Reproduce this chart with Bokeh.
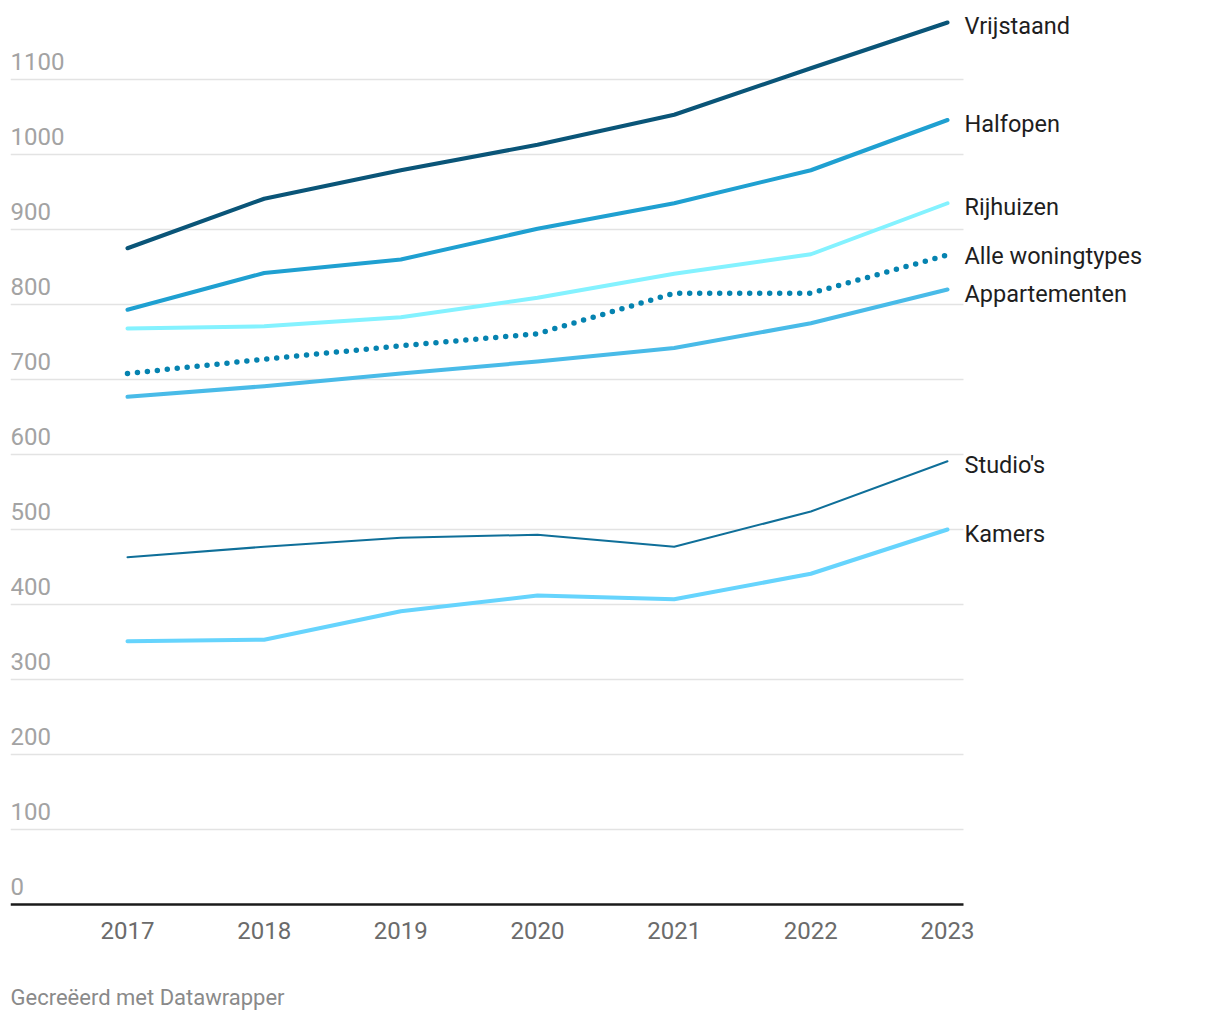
from bokeh.plotting import figure
from bokeh.models import Range1d, ColumnDataSource
from bokeh.core.properties import value
from bokeh.embed import file_html
from bokeh.resources import INLINE

years = [2017, 2018, 2019, 2020, 2021, 2022, 2023]
vrijstaand = [875, 941, 979, 1013, 1053, 1115, 1176]
halfopen = [793, 842, 860, 901, 935, 979, 1046]
rijhuizen = [768, 771, 783, 809, 841, 867, 935]
alle = [708, 727, 745, 761, 815, 815, 866]
appartementen = [677, 691, 708, 724, 742, 775, 820]
studios = [463, 477, 489, 493, 477, 524, 591]
kamers = [351, 353, 391, 412, 407, 441, 500]

y_ticks = [0, 100, 200, 300, 400, 500, 600, 700, 800, 900, 1000, 1100]
x_tick_labels = ["2017", "2018", "2019", "2020", "2021", "2022", "2023"]
credit = "Gecreëerd met Datawrapper"

# name, values, colour, width, dash, label y-offset (px)
series = [
    ("Vrijstaand", vrijstaand, "#0a5578", 4, None, 3),
    ("Halfopen", halfopen, "#1fa0d1", 4, None, 3.5),
    ("Rijhuizen", rijhuizen, "#84f2ff", 4, None, 4),
    ("Appartementen", appartementen, "#49bbe8", 4, None, 4),
    ("Studio's", studios, "#0f6f99", 2, None, 4),
    ("Kamers", kamers, "#66d4fd", 4, None, 4),
    ("Alle woningtypes", alle, "#0583b0", 5.5, "0 10", 0.5),
]

FONT = "Roboto"

# layout constants (pixels)
W, H = 1215, 1015
LEFT, TOP = 10, 10
PX_PER_YEAR = 136.67
PX_PER_UNIT = 0.75
X0 = 2016.144            # value at frame left edge
X_GRID_END = 2023.117    # where gridlines stop
Y_TOP = 1192

frame_w = W - LEFT
frame_h = H - TOP
x_end = X0 + frame_w / PX_PER_YEAR
y_bot = Y_TOP - frame_h / PX_PER_UNIT

p = figure(width=W, height=H, output_backend="svg", toolbar_location=None,
           x_range=Range1d(X0, x_end), y_range=Range1d(y_bot, Y_TOP))
p.min_border_left = LEFT
p.min_border_top = TOP
p.min_border_right = 0
p.min_border_bottom = 0
p.outline_line_color = None
p.background_fill_color = "white"
p.border_fill_color = "white"
p.xaxis.visible = False
p.yaxis.visible = False
p.xgrid.grid_line_color = None
p.ygrid.grid_line_color = None

# gridlines
grid_y = [t for t in y_ticks if t > 0]
p.segment(x0=[X0] * len(grid_y), y0=grid_y, x1=[X_GRID_END] * len(grid_y), y1=grid_y,
          line_color="#e3e3e3", line_width=1.5)
# baseline
p.segment(x0=[X0], y0=[0], x1=[X_GRID_END], y1=[0], line_color="#1a1a1a", line_width=2.5)

for name, vals, color, w, dash, _ in series:
    if dash:
        p.line(years, vals, line_color=color, line_width=w, line_dash=dash, line_cap="round")
    else:
        p.line(years, vals, line_color=color, line_width=w, line_join="round", line_cap="round")

lab_src = ColumnDataSource(dict(x=[years[-1]] * len(series),
                                y=[s[1][-1] for s in series],
                                text=[s[0] for s in series],
                                dy=[s[5] for s in series]))
p.text(x="x", y="y", text="text", source=lab_src, x_offset=17, y_offset="dy",
       text_font=value(FONT), text_font_size="23.5px", text_color="#1e1e1e",
       text_baseline="middle", text_align="left")

# y tick labels
tick_src = ColumnDataSource(dict(x=[X0] * len(y_ticks), y=y_ticks,
                                 text=[str(t) for t in y_ticks]))
p.text(x="x", y="y", text="text", source=tick_src, x_offset=0, y_offset=-18.5,
       text_font=value(FONT), text_font_size="24px", text_color="#a3a3a3",
       text_baseline="alphabetic", text_align="left")

# x tick labels
xt_src = ColumnDataSource(dict(x=years, y=[0] * len(years), text=x_tick_labels))
p.text(x="x", y="y", text="text", source=xt_src, y_offset=26,
       text_font=value(FONT), text_font_size="24px", text_color="#6b6b6b",
       text_baseline="middle", text_align="center")

# credit
p.text(x=[X0], y=[0], text=[credit], y_offset=93,
       text_font=value(FONT), text_font_size="22px", text_color="#8a8a8a",
       text_baseline="middle", text_align="left")

open("out.html", "w").write(file_html(p, INLINE))
